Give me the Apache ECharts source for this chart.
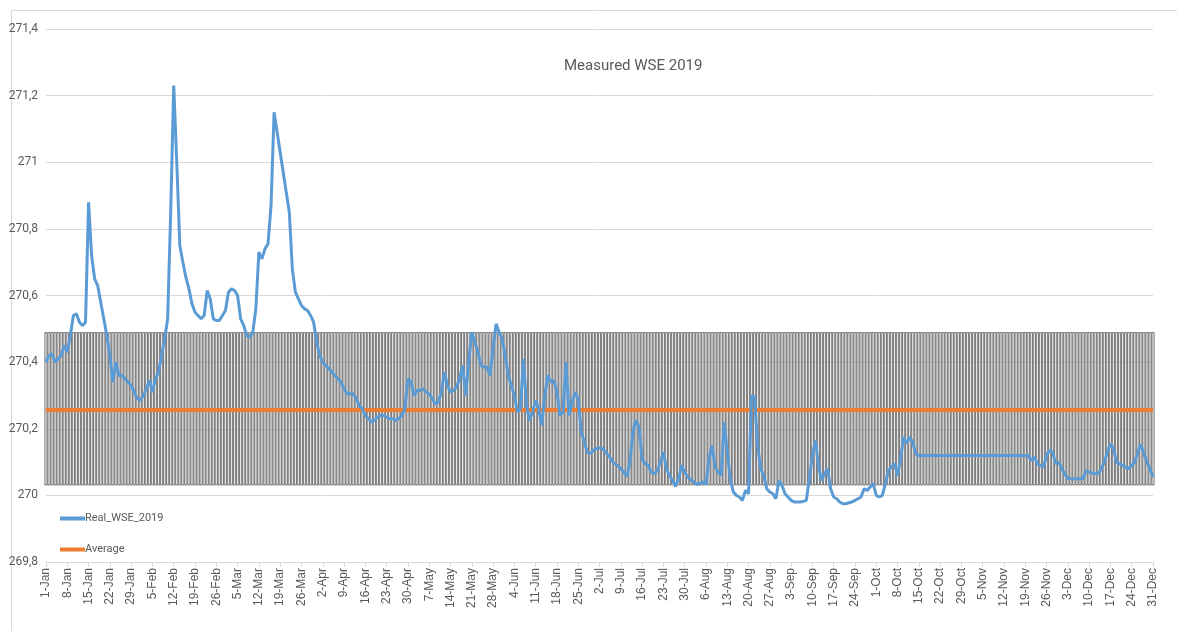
<!DOCTYPE html>
<html><head><meta charset="utf-8">
<script src="https://cdn.jsdelivr.net/npm/echarts@6/dist/echarts.min.js"></script>
<style>html,body{margin:0;padding:0;background:#fff}#c{width:1177px;height:631px}</style>
</head><body><div id="c"></div>
<script>
// ---- data ----
const monthNames = ['Jan','Feb','Mar','Apr','May','Jun','Jul','Aug','Sep','Oct','Nov','Dec'];
const monthDays = [31,28,31,30,31,30,31,31,30,31,30,31];
const yTicks = [269.8, 270, 270.2, 270.4, 270.6, 270.8, 271, 271.2, 271.4];
const averageValue = 270.256;
const bandLower = 270.03;
const bandUpper = 270.49;
const wse = [
270.40,270.42,270.425,270.40,270.41,270.42,270.45,270.43,270.48,270.54,
270.545,270.52,270.51,270.52,270.88,270.72,270.65,270.63,270.58,270.53,
270.48,270.42,270.34,270.40,270.36,270.36,270.35,270.34,270.33,270.31,
270.29,270.285,270.30,270.32,270.345,270.31,270.35,270.37,270.42,270.47,
270.53,270.85,271.23,271.0,270.75,270.70,270.655,270.62,270.575,270.55,
270.54,270.53,270.54,270.615,270.59,270.53,270.525,270.525,270.54,270.555,
270.61,270.62,270.615,270.60,270.53,270.51,270.48,270.475,270.49,270.56,
270.73,270.71,270.74,270.755,270.87,271.15,271.09,271.03,270.97,270.91,
270.85,270.68,270.61,270.59,270.57,270.56,270.555,270.54,270.52,270.46,
270.42,270.40,270.39,270.38,270.37,270.36,270.35,270.34,270.32,270.305,
270.305,270.305,270.29,270.27,270.26,270.24,270.23,270.22,270.225,270.235,
270.24,270.24,270.235,270.23,270.23,270.225,270.23,270.24,270.26,270.35,
270.34,270.30,270.315,270.315,270.32,270.31,270.305,270.29,270.275,270.28,
270.31,270.37,270.33,270.31,270.315,270.325,270.35,270.39,270.30,270.40,
270.49,270.46,270.43,270.39,270.385,270.385,270.36,270.44,270.515,270.49,
270.47,270.42,270.36,270.33,270.30,270.25,270.26,270.41,270.27,270.225,
270.25,270.285,270.26,270.21,270.30,270.36,270.34,270.345,270.31,270.24,
270.25,270.40,270.24,270.28,270.31,270.29,270.19,270.16,270.13,270.125,
270.135,270.14,270.143,270.14,270.13,270.12,270.105,270.095,270.09,270.08,
270.07,270.057,270.10,270.19,270.225,270.205,270.11,270.095,270.09,270.07,
270.065,270.075,270.10,270.13,270.08,270.06,270.045,270.027,270.05,270.09,
270.07,270.055,270.047,270.04,270.033,270.035,270.04,270.033,270.11,270.15,
270.085,270.07,270.06,270.22,270.13,270.05,270.01,270.0,269.995,269.985,
270.015,270.005,270.30,270.295,270.15,270.08,270.06,270.02,270.01,270.005,
269.99,270.045,270.03,270.005,269.995,269.985,269.98,269.98,269.98,269.982,
269.985,270.05,270.12,270.165,270.09,270.045,270.065,270.08,270.02,269.995,
269.99,269.98,269.975,269.975,269.978,269.98,269.985,269.99,269.995,270.02,
270.015,270.025,270.035,270.0,269.995,270.0,270.035,270.075,270.085,270.095,
270.06,270.11,270.175,270.155,270.175,270.16,270.125,270.12,270.12,270.12,
270.12,270.12,270.12,270.12,270.12,270.12,270.12,270.12,270.12,270.12,
270.12,270.12,270.12,270.12,270.12,270.12,270.12,270.12,270.12,270.12,
270.12,270.12,270.12,270.12,270.12,270.12,270.12,270.12,270.12,270.12,
270.12,270.12,270.12,270.12,270.105,270.115,270.095,270.09,270.085,270.12,
270.135,270.13,270.095,270.10,270.08,270.065,270.05,270.05,270.05,270.05,
270.05,270.05,270.075,270.07,270.067,270.065,270.065,270.08,270.10,270.13,
270.155,270.14,270.10,270.095,270.09,270.085,270.08,270.09,270.10,270.13,
270.153,270.125,270.10,270.08,270.055
];

// ---- build tables ----
const categories = [];
monthNames.forEach((m, i) => { for (let d = 1; d <= monthDays[i]; d++) categories.push(d + '-' + m); });
const avgData = categories.map(() => averageValue);
const bandBase = categories.map(() => bandLower);
const bandSpan = categories.map(() => +(bandUpper - bandLower).toFixed(3));

const chart = echarts.init(document.getElementById('c'), null, {renderer: 'canvas'});
const grey = '#595959';
const narrow = 'DejaVu Sans Condensed, Roboto, sans-serif';
chart.setOption({
  animation: false,
  backgroundColor: '#fff',
  graphic: [{
    type: 'rect', left: 9, top: 8, shape: {width: 1166, height: 622},
    style: {fill: 'none', stroke: '#d9d9d9', lineWidth: 1}, silent: true, z: -1
  }],
  title: {
    text: 'Measured WSE 2019', left: 559, top: 54,
    textStyle: {fontFamily: 'Roboto, sans-serif', fontSize: 15, fontWeight: 'normal', color: grey}
  },
  legend: {
    data: ['Real_WSE_2019', 'Average'], orient: 'vertical', left: 55, top: 508,
    itemWidth: 25, itemHeight: 4, itemGap: 20, icon: 'rect',
    textStyle: {fontFamily: 'Roboto, sans-serif', fontSize: 11, color: grey, padding: [0,0,0,-5]}
  },
  grid: {left: 46, right: 24, top: 29, bottom: 69, containLabel: false},
  xAxis: {
    type: 'category', data: categories, boundaryGap: false,
    axisLine: {lineStyle: {color: '#d9d9d9', width: 1}},
    axisTick: {interval: 6, length: 5, lineStyle: {color: '#d9d9d9'}},
    axisLabel: {interval: 6, rotate: 90, fontFamily: 'Liberation Sans, Arial, sans-serif', fontSize: 12, color: grey, margin: 6},
    splitLine: {show: false}
  },
  yAxis: {
    type: 'value', min: 269.8, max: 271.4, interval: 0.2,
    axisLine: {show: false}, axisTick: {show: false},
    splitLine: {lineStyle: {color: '#d9d9d9', width: 1}},
    axisLabel: {
      fontFamily: 'Roboto, sans-serif', fontSize: 12, color: grey, margin: 8,
      formatter: v => String(Math.round(v * 10) / 10).replace('.', ',')
    }
  },
  series: [
    {name: 'bandBase', type: 'bar', stack: 'band', data: bandBase, barCategoryGap: '0%',
     itemStyle: {color: 'rgba(0,0,0,0)'}, silent: true, z: 1},
    {name: 'band', type: 'bar', stack: 'band', data: bandSpan, barCategoryGap: '0%',
     itemStyle: {color: 'rgba(205,205,205,0.5)', borderColor: '#606060', borderWidth: 0.8}, silent: true, z: 1},
    {name: 'Average', type: 'line', data: avgData, symbol: 'none',
     lineStyle: {color: '#ED7D31', width: 4}, itemStyle: {color: '#ED7D31'}, z: 3},
    {name: 'Real_WSE_2019', type: 'line', data: wse, symbol: 'none',
     lineStyle: {color: '#5B9BD5', width: 3}, itemStyle: {color: '#5B9BD5'}, z: 4}
  ]
});
</script></body></html>
